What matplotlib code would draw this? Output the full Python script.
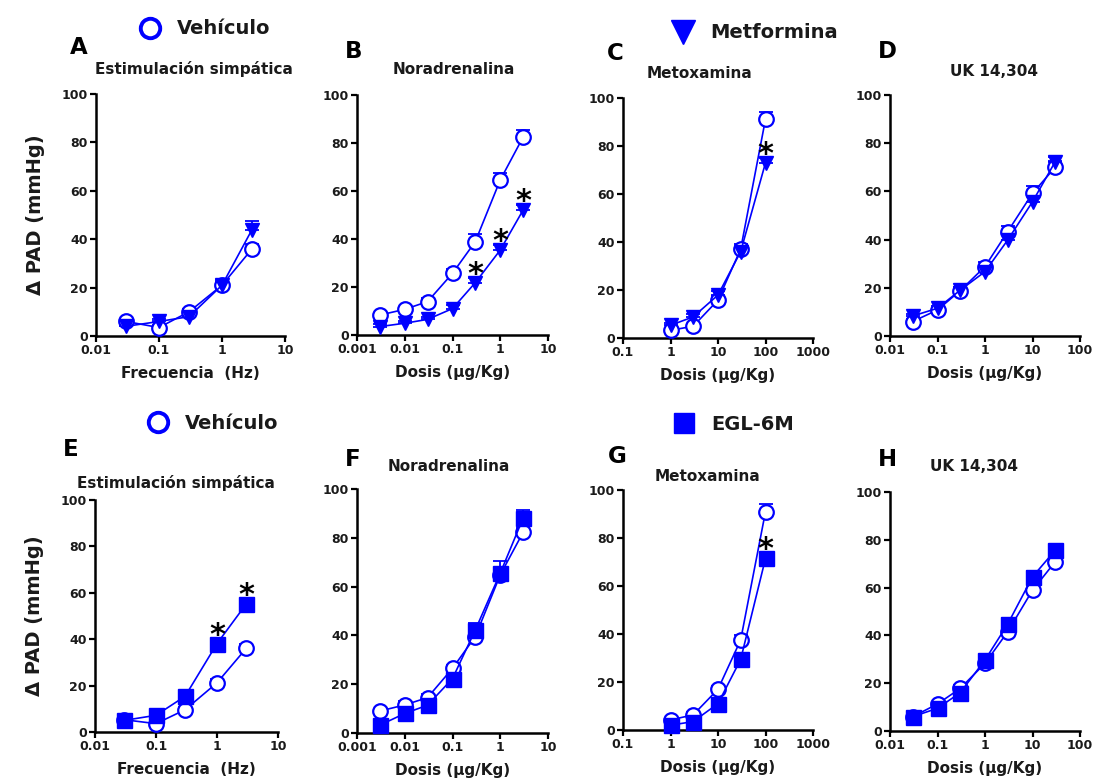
import matplotlib
matplotlib.use("Agg")
import matplotlib.pyplot as plt
from matplotlib.lines import Line2D

# dose / frequency grids
freq = [0.03, 0.1, 0.3, 1, 3]
dosis_na = [0.003, 0.01, 0.03, 0.1, 0.3, 1, 3]
dosis_mtx = [1, 3, 10, 30, 100]
dosis_uk = [0.03, 0.1, 0.3, 1, 3, 10, 30]

# top row: vehiculo vs metformina (mean, SEM)
a_veh = [6, 3.5, 10, 21, 36]
a_veh_err = [1, 1, 1, 1.5, 2]
a_met = [4, 6, 8, 21, 44]
a_met_err = [1, 1, 1.5, 2, 3.5]

b_veh = [8.3, 10.7, 13.9, 25.7, 38.9, 64.6, 82.4]
b_veh_err = [1, 1, 1.5, 2, 3, 3, 3]
b_met = [3.5, 4.9, 6.5, 11, 21.8, 35.4, 52]
b_met_err = [1, 1, 1, 1.5, 2, 2, 2]

c_veh = [3.2, 4.9, 15.8, 37, 91.2]
c_veh_err = [1, 1, 1.5, 2, 3]
c_met = [5.3, 8.8, 17.9, 36, 73]
c_met_err = [1, 1, 1.5, 2, 2]

d_veh = [6, 10.8, 18.8, 28.8, 43.3, 59.2, 70]
d_veh_err = [1, 1, 1.5, 2, 2.5, 3, 2.5]
d_met = [8.3, 11.5, 19, 26.7, 39.8, 55.7, 72.3]
d_met_err = [1, 1, 1.5, 2, 2, 2.5, 2]

# bottom row: vehiculo vs EGL-6M
e_veh = [5.3, 3.6, 9.6, 21.2, 36]
e_veh_err = [1, 1, 1, 1.5, 2]
e_egl = [5, 7.2, 15.4, 38.1, 55.1]
e_egl_err = [1, 1, 1.5, 2, 2]

f_veh = [9, 11.5, 14.5, 26.5, 39.5, 64.8, 82.2]
f_veh_err = [1, 1.5, 1.5, 1.5, 2.5, 3, 2]
f_egl = [3.2, 8, 11.4, 22.3, 42.2, 65.5, 88]
f_egl_err = [1, 1.5, 1.5, 2, 3, 5, 3.5]

g_veh = [4.2, 6.3, 17, 37.5, 91]
g_veh_err = [1, 1, 1.5, 2, 3]
g_egl = [2, 3.5, 11, 29.4, 71.5]
g_egl_err = [1, 1, 1.5, 2, 2]

h_veh = [6, 11.3, 17.8, 28.3, 41.5, 58.9, 70.8]
h_veh_err = [1, 1, 1.5, 2, 2.5, 3, 2]
h_egl = [6, 9.5, 16, 29.7, 44.7, 64.5, 75.6]
h_egl_err = [1, 1, 1.5, 2, 2.5, 2.5, 2]

# significant points (index into the drug series)
b_sig = [4, 5, 6]
c_sig = [4]
e_sig = [3, 4]
g_sig = [4]

ticks_freq = ([0.01, 0.1, 1, 10], ["0.01", "0.1", "1", "10"])
ticks_na = ([0.001, 0.01, 0.1, 1, 10], ["0.001", "0.01", "0.1", "1", "10"])
ticks_mtx = ([0.1, 1, 10, 100, 1000], ["0.1", "1", "10", "100", "1000"])
ticks_uk = ([0.01, 0.1, 1, 10, 100], ["0.01", "0.1", "1", "10", "100"])

W, H = 1095, 782
BLUE = "#0000ff"
INK = "#1a1a1a"

plt.rcParams["font.family"] = "DejaVu Sans"
plt.rcParams["font.weight"] = "bold"

fig = plt.figure(figsize=(W / 100, H / 100), dpi=100)


def px(x0, y0, x1, y1):
    return [x0 / W, 1 - y1 / H, (x1 - x0) / W, (y1 - y0) / H]


def fx(x):
    return x / W


def fy(y):
    return 1 - y / H


panels = [
    # letter, subtitle, rect, x, veh, veh_err, drug, drug_err, marker, ticks, xlabel, sig, letter pos, sub pos
    ("A", "Estimulación simpática", px(96, 94, 285, 336), freq, a_veh, a_veh_err, a_met, a_met_err,
     "v", ticks_freq, "Frecuencia  (Hz)", [], (70, 48), (95, 69)),
    ("B", "Noradrenalina", px(357, 95, 548, 335), dosis_na, b_veh, b_veh_err, b_met, b_met_err,
     "v", ticks_na, "Dosis (µg/Kg)", b_sig, (345, 52), (393, 69)),
    ("C", "Metoxamina", px(623, 98, 813, 338), dosis_mtx, c_veh, c_veh_err, c_met, c_met_err,
     "v", ticks_mtx, "Dosis (µg/Kg)", c_sig, (607, 54), (647, 74)),
    ("D", "UK 14,304", px(890, 95, 1080, 336), dosis_uk, d_veh, d_veh_err, d_met, d_met_err,
     "v", ticks_uk, "Dosis (µg/Kg)", [], (878, 52), (950, 71)),
    ("E", "Estimulación simpática", px(95, 500, 278, 732), freq, e_veh, e_veh_err, e_egl, e_egl_err,
     "s", ticks_freq, "Frecuencia  (Hz)", e_sig, (63, 449), (77, 483)),
    ("F", "Noradrenalina", px(357, 489, 548, 733), dosis_na, f_veh, f_veh_err, f_egl, f_egl_err,
     "s", ticks_na, "Dosis (µg/Kg)", [], (345, 459), (388, 466)),
    ("G", "Metoxamina", px(623, 490, 813, 730), dosis_mtx, g_veh, g_veh_err, g_egl, g_egl_err,
     "s", ticks_mtx, "Dosis (µg/Kg)", g_sig, (608, 456), (655, 476)),
    ("H", "UK 14,304", px(890, 492, 1080, 731), dosis_uk, h_veh, h_veh_err, h_egl, h_egl_err,
     "s", ticks_uk, "Dosis (µg/Kg)", [], (878, 460), (930, 466)),
]

for (letter, sub, rect, x, veh, veh_err, drug, drug_err, mk, ticks, xlab, sig,
     lpos, spos) in panels:
    ax = fig.add_axes(rect)
    ax.set_xscale("log")
    ax.set_xlim(ticks[0][0], ticks[0][-1])
    ax.set_ylim(0, 100)

    # upward-only SEM bars under the markers
    for y, err in ((veh, veh_err), (drug, drug_err)):
        ax.errorbar(x, y, yerr=[[0] * len(err), err], fmt="none", ecolor=BLUE,
                    elinewidth=1.3, capsize=5, capthick=1.3, zorder=2, clip_on=False)

    ax.plot(x, veh, "-", color=BLUE, lw=1.2, marker="o", ms=10.5, mfc="white",
            mec=BLUE, mew=1.6, zorder=3, clip_on=False)
    ms = 10.5 if mk == "v" else 10.8
    ax.plot(x, drug, "-", color=BLUE, lw=1.2, marker=mk, ms=ms, mfc=BLUE,
            mec=BLUE, mew=1, zorder=4, clip_on=False)

    for i in sig:
        ax.annotate("*", xy=(x[i], drug[i]), xytext=(0, 0), textcoords="offset points",
                    ha="center", va="baseline", fontsize=22, fontweight="bold",
                    color="black", zorder=5)

    ax.set_xticks(ticks[0])
    ax.set_xticklabels(ticks[1])
    ax.minorticks_off()
    ax.set_yticks([0, 20, 40, 60, 80, 100])
    ax.tick_params(direction="out", length=4, width=1.6, colors="black",
                   labelcolor=INK, labelsize=9, pad=2)
    for lab in ax.get_xticklabels() + ax.get_yticklabels():
        lab.set_fontweight("bold")
    for side in ("top", "right"):
        ax.spines[side].set_visible(False)
    for side in ("left", "bottom"):
        ax.spines[side].set_linewidth(1.8)
        ax.spines[side].set_color("black")
    ax.set_xlabel(xlab, fontsize=11, fontweight="bold", color=INK, labelpad=6)
    if letter in ("A", "E"):
        ax.set_ylabel("Δ PAD (mmHg)", fontsize=14, fontweight="bold", color=INK,
                      labelpad=12)

    fig.text(fx(lpos[0]), fy(lpos[1]), letter, fontsize=16.5, fontweight="bold",
             color="black", ha="left", va="center")
    fig.text(fx(spos[0]), fy(spos[1]), sub, fontsize=11, fontweight="bold",
             color=INK, ha="left", va="center")

# group keys
veh_key = Line2D([], [], ls="none", marker="o", ms=14, mfc="white", mec=BLUE, mew=2.8)
met_key = Line2D([], [], ls="none", marker="v", ms=17, mfc=BLUE, mec=BLUE)
egl_key = Line2D([], [], ls="none", marker="s", ms=15, mfc=BLUE, mec=BLUE)

for key, label, xy in ((veh_key, "Vehículo", (140, 29)),
                       (met_key, "Metformina", (673, 33)),
                       (veh_key, "Vehículo", (148, 423)),
                       (egl_key, "EGL-6M", (674, 424))):
    fig.legend(handles=[key], labels=[label], loc="center left",
               bbox_to_anchor=(fx(xy[0]), fy(xy[1])), frameon=False,
               handlelength=1.0, handletextpad=0.9, borderpad=0, borderaxespad=0,
               prop={"size": 14, "weight": "bold"}, labelcolor=INK)

fig.savefig("out.png", dpi=100)
